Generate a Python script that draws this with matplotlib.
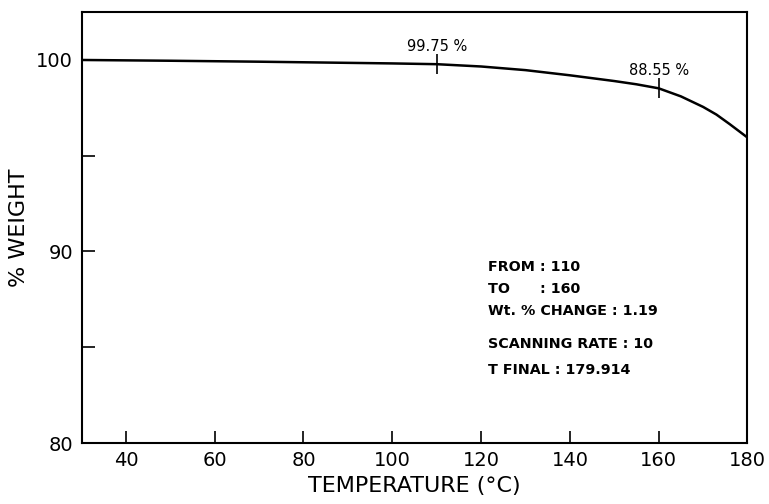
import matplotlib
matplotlib.use("Agg")
import matplotlib.pyplot as plt

# data
temp = [30, 50, 70, 90, 100, 110, 120, 130, 140, 145, 150, 155, 160, 165, 170, 173, 176, 178, 180]
weight = [100.0, 99.96, 99.91, 99.85, 99.82, 99.78, 99.66, 99.47, 99.20, 99.05, 98.90, 98.73, 98.52,
          98.10, 97.55, 97.15, 96.65, 96.30, 95.95]

mark_t = [110, 160]
mark_w = [99.78, 98.52]
mark_lbl = ["99.75 %", "88.55 %"]

info = ["FROM : 110", "TO      : 160", "Wt. % CHANGE : 1.19",
        "SCANNING RATE : 10", "T FINAL : 179.914"]

fig = plt.figure(figsize=(7.69, 5.04), dpi=100)
ax = fig.add_axes([0.106, 0.121, 0.866, 0.855])

ax.plot(temp, weight, color="black", lw=1.8)
ax.plot(mark_t, mark_w, ls="none", marker="|", ms=14, mew=1.2, color="black")
for t, w, s in zip(mark_t, mark_w, mark_lbl):
    ax.text(t, w + 0.55, s, ha="center", va="bottom", fontsize=10.5)

ax.set_xlim(30, 180)
ax.set_ylim(80, 102.5)
ax.set_xticks([40, 60, 80, 100, 120, 140, 160, 180])
ax.set_yticks([80, 90, 100])
ax.set_yticks([85, 95], minor=True)
ax.tick_params(axis="both", which="both", direction="in", length=9, width=1.2, labelsize=14, pad=6)
for sp in ax.spines.values():
    sp.set_linewidth(1.5)

ax.set_xlabel("TEMPERATURE (°C)", fontsize=16, labelpad=4)
ax.set_ylabel("% WEIGHT", fontsize=16, labelpad=5)

ys = [89.2, 88.05, 86.9, 85.15, 83.8]
for y, s in zip(ys, info):
    ax.text(121.5, y, s, fontsize=10.3, fontweight="bold", va="center")

fig.savefig("out.png", dpi=100)
